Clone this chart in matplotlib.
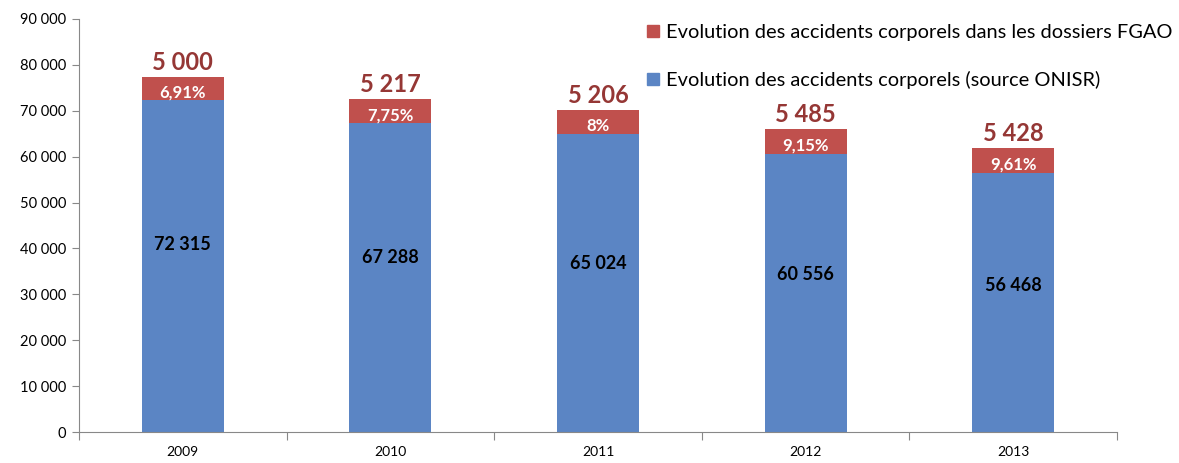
import matplotlib.pyplot as plt
import numpy as np
from matplotlib.patches import Patch
from matplotlib.ticker import FuncFormatter, FixedLocator

years = ['2009', '2010', '2011', '2012', '2013']
onisr = [72315, 67288, 65024, 60556, 56468]
fgao = [5000, 5217, 5206, 5485, 5428]
pct_labels = ['6,91%', '7,75%', '8%', '9,15%', '9,61%']

blue = '#5B85C4'
red = '#C0504D'
darkred = '#953735'
grey = '#888888'

plt.rcParams['font.family'] = ['Lato', 'DejaVu Sans']

fig = plt.figure(figsize=(11.79, 4.63), dpi=100)
ax = fig.add_axes([79/1179, 1 - 432/463, (1117 - 79)/1179, (432 - 19)/463])

x = np.arange(len(years))
w = 0.395
ax.bar(x, onisr, w, color=blue, zorder=2)
ax.bar(x, fgao, w, bottom=onisr, color=red, zorder=2)

# labels
for i in range(len(years)):
    top = onisr[i] + fgao[i]
    ax.annotate(f'{onisr[i]:,}'.replace(',', ' '), (x[i], onisr[i] * 0.565),
                ha='center', va='center', fontsize=13, fontweight='bold', color='black')
    ax.annotate(pct_labels[i], (x[i], onisr[i] + fgao[i] / 2), xytext=(0, -3),
                textcoords='offset points', ha='center', va='center',
                fontsize=12, fontweight='bold', color='white')
    ax.annotate(f'{fgao[i]:,}'.replace(',', ' '), (x[i], top), xytext=(0, 10.5),
                textcoords='offset points', ha='center', va='center',
                fontsize=17, fontweight='bold', color=darkred)

ax.set_xlim(-0.5, 4.5)
ax.set_ylim(0, 90000)
ax.set_yticks(np.arange(0, 90001, 10000))
ax.yaxis.set_major_formatter(FuncFormatter(lambda v, p: f'{int(v):,}'.replace(',', ' ')))
ax.tick_params(axis='y', labelsize=10.5, length=5, color=grey, pad=4)

ax.xaxis.set_major_locator(FixedLocator(np.arange(-0.5, 5, 1)))
ax.xaxis.set_major_formatter(FuncFormatter(lambda v, p: ''))
ax.xaxis.set_minor_locator(FixedLocator(x))
ax.set_xticklabels(years, minor=True)
ax.tick_params(axis='x', which='major', length=6, color=grey)
ax.tick_params(axis='x', which='minor', length=0, labelsize=10, pad=10)

for s in ['top', 'right']:
    ax.spines[s].set_visible(False)
for s in ['left', 'bottom']:
    ax.spines[s].set_color(grey)

handles = [Patch(color=red, label='Evolution des accidents corporels dans les dossiers FGAO'),
           Patch(color=blue, label='Evolution des accidents corporels (source ONISR)')]
fig.legend(handles=handles, loc='upper left', bbox_to_anchor=(647/1179, 1 - 24/463),
           frameon=False, fontsize=14.4, handlelength=0.6, handleheight=0.6,
           handletextpad=0.35, labelspacing=1.5, borderaxespad=0, borderpad=0)

fig.savefig('out.png', dpi=100)
